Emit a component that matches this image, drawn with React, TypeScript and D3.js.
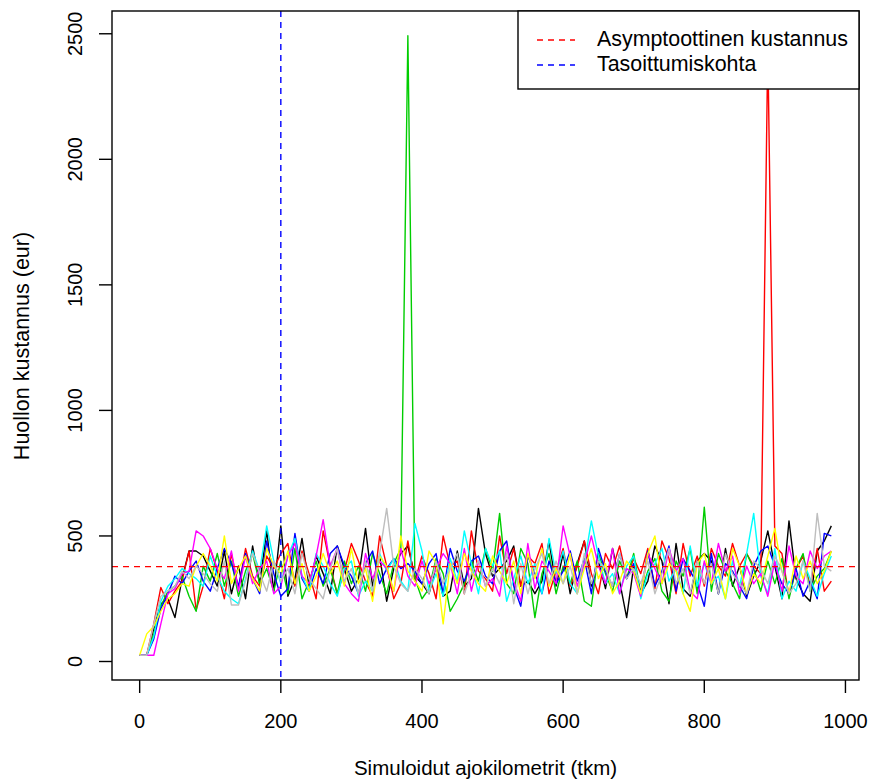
import React from "react";
import * as d3 from "d3";

const km: number[] = d3.range(0, 990, 10);

const seriesBlack = [
  25, 25, 130, 230, 250, 175, 330, 440, 440, 420,
  360, 300, 440, 270, 380, 250, 460, 310, 520, 280,
  540, 260, 330, 490, 300, 420, 350, 270, 460, 370,
  280, 330, 530, 300, 420, 240, 370, 430, 460, 340,
  310, 270, 380, 260, 280, 440, 300, 330, 610, 430,
  340, 370, 400, 460, 300, 320, 270, 320, 480, 300,
  430, 270, 390, 480, 300, 400, 290, 450, 320, 175,
  380, 270, 320, 460, 400, 230, 470, 290, 260, 400,
  430, 400, 270, 450, 300, 380, 260, 340, 400, 520,
  380, 250, 560, 330, 270, 240, 440, 480, 540,
];
const seriesRed = [
  25, 25, 150, 295, 230, 280, 320, 440, 205, 300,
  450, 360, 250, 430, 290, 450, 340, 300, 420, 370,
  430, 470, 300, 440, 350, 250, 520, 380, 270, 360,
  470, 400, 320, 260, 500, 380, 250, 310, 480, 320,
  420, 350, 250, 500, 380, 400, 270, 520, 360, 330,
  280, 500, 350, 450, 300, 420, 390, 470, 270, 360,
  450, 300, 380, 480, 350, 270, 430, 370, 460, 330,
  410, 350, 450, 290, 480, 410, 270, 470, 340, 420,
  300, 450, 380, 340, 470, 380, 430, 380, 350, 2450,
  460, 430, 260, 370, 420, 300, 450, 280, 320,
];
const seriesGreen = [
  25, 25, 110, 220, 280, 300, 340, 260, 200, 380,
  320, 430, 300, 400, 260, 360, 430, 310, 370, 280,
  400, 270, 450, 250, 320, 400, 300, 370, 270, 400,
  310, 380, 280, 430, 350, 270, 390, 450, 2492, 330,
  250, 290, 410, 350, 200, 250, 310, 400, 320, 450,
  360, 590, 310, 270, 450, 390, 175, 350, 430, 270,
  380, 310, 400, 240, 220, 430, 350, 280, 400, 330,
  430, 270, 360, 410, 280, 240, 400, 340, 450, 270,
  615, 280, 430, 360, 310, 250, 430, 370, 280, 400,
  310, 410, 250, 370, 430, 280, 340, 370, 440,
];
const seriesBlue = [
  25, 25, 90, 210, 270, 340, 310, 360, 400, 320,
  280, 370, 450, 390, 300, 430, 330, 270, 480, 350,
  260, 290, 510, 330, 280, 370, 310, 430, 460, 380,
  340, 270, 390, 440, 310, 370, 410, 370, 390, 360,
  310, 390, 430, 270, 450, 360, 320, 400, 420, 340,
  310, 440, 480, 300, 220, 420, 350, 270, 400, 310,
  360, 440, 320, 410, 270, 450, 360, 300, 430, 330,
  390, 270, 440, 300, 360, 460, 280, 410, 360, 310,
  220, 430, 270, 390, 360, 300, 250, 380, 440, 460,
  380, 310, 270, 370, 260, 320, 250, 510, 500,
];
const seriesCyan = [
  25, 25, 100, 240, 300, 330, 370, 350, 330, 300,
  420, 340, 280, 250, 230, 330, 440, 360, 540, 400,
  310, 420, 490, 340, 280, 430, 380, 310, 260, 370,
  400, 260, 320, 280, 430, 360, 410, 320, 280, 550,
  440, 280, 350, 260, 410, 320, 520, 390, 270, 450,
  380, 440, 240, 330, 420, 310, 390, 270, 490, 350,
  440, 310, 270, 390, 560, 420, 310, 350, 270, 380,
  420, 250, 350, 390, 450, 320, 370, 270, 460, 300,
  390, 310, 340, 250, 400, 300, 430, 590, 340, 270,
  450, 250, 320, 280, 400, 330, 260, 350, 420,
];
const seriesMagenta = [
  25, 25, 25, 150, 270, 290, 350, 360, 520, 500,
  450, 370, 330, 440, 280, 420, 310, 370, 400, 270,
  300, 420, 470, 340, 310, 420, 565, 380, 450, 310,
  270, 240, 430, 330, 400, 370, 280, 450, 340, 300,
  400, 310, 370, 430, 390, 270, 450, 280, 400, 300,
  330, 260, 460, 320, 240, 470, 290, 400, 360, 310,
  540, 420, 300, 390, 500, 380, 310, 450, 270, 370,
  350, 260, 430, 370, 310, 450, 360, 410, 280, 250,
  400, 310, 470, 360, 420, 270, 380, 310, 350, 260,
  400, 280, 460, 340, 310, 440, 370, 420, 440,
];
const seriesYellow = [
  25, 110, 140, 200, 250, 270, 310, 300, 380, 430,
  380, 320, 500, 310, 370, 420, 330, 280, 450, 380,
  350, 440, 310, 390, 280, 340, 430, 350, 400, 300,
  450, 310, 370, 240, 420, 380, 280, 500, 360, 320,
  280, 440, 390, 150, 390, 310, 430, 360, 310, 280,
  420, 360, 310, 400, 270, 430, 330, 450, 300, 370,
  310, 430, 270, 370, 450, 330, 390, 270, 320, 400,
  360, 270, 430, 500, 310, 390, 360, 270, 200, 390,
  430, 310, 370, 250, 450, 380, 270, 350, 310, 420,
  530, 360, 270, 420, 330, 400, 310, 360, 440,
];
const seriesGray = [
  25, 25, 150, 260, 280, 300, 360, 330, 380, 350,
  310, 280, 400, 225, 225, 320, 430, 350, 280, 400,
  320, 370, 270, 430, 330, 290, 250, 370, 450, 320,
  370, 270, 400, 280, 430, 610, 380, 310, 280, 370,
  330, 270, 400, 310, 370, 430, 270, 350, 400, 300,
  370, 310, 430, 230, 390, 270, 370, 430, 310, 400,
  310, 380, 270, 430, 310, 400, 370, 300, 430, 330,
  370, 310, 400, 270, 350, 450, 310, 370, 270, 400,
  310, 390, 270, 430, 350, 310, 270, 400, 370, 310,
  420, 360, 270, 310, 400, 280, 590, 380, 360,
];

const seriesList = [
  seriesBlack, seriesRed, seriesGreen, seriesBlue,
  seriesCyan, seriesMagenta, seriesYellow, seriesGray,
];
const seriesColors = ["#000000", "#FF0000", "#00CD00", "#0000FF", "#00FFFF", "#FF00FF", "#FFFF00", "#BEBEBE"];

const asymptote = 378;
const breakEven = 200;
const xTicks = [0, 200, 400, 600, 800, 1000];
const yTicks = [0, 500, 1000, 1500, 2000, 2500];
const legendLabels = ["Asymptoottinen kustannus", "Tasoittumiskohta"];
const legendColors = ["#FF0000", "#0000FF"];
const xLabel = "Simuloidut ajokilometrit (tkm)";
const yLabel = "Huollon kustannus (eur)";

const W = 871;
const H = 783;
const L = 112, R = 859, T = 11, B = 680;
const FONT = "'Liberation Sans', Arial, Helvetica, sans-serif";

function pad(ext: [number, number]): [number, number] {
  const d = (ext[1] - ext[0]) * 0.04;
  return [ext[0] - d, ext[1] + d];
}

export default function App() {
  const xExt = d3.extent(km) as [number, number];
  const allVals = seriesList.flat();
  const yExt = d3.extent(allVals) as [number, number];
  const x = d3.scaleLinear().domain(pad(xExt)).range([L, R]);
  const y = d3.scaleLinear().domain(pad(yExt)).range([B, T]);
  const line = d3
    .line<number>()
    .x((_, i) => x(km[i]))
    .y((v) => y(v));

  return (
    <svg width={W} height={H} style={{ position: "absolute", left: 0, top: 0, background: "#fff" }} fontFamily={FONT} fontSize={20}>
      <rect x={0} y={0} width={W} height={H} fill="#fff" />
      <defs>
        <clipPath id="plotclip">
          <rect x={L} y={T} width={R - L} height={B - T} />
        </clipPath>
      </defs>
      <g clipPath="url(#plotclip)">
        {seriesList.map((s, k) => (
          <path key={k} d={line(s) || ""} fill="none" stroke={seriesColors[k]} strokeWidth={1.4} strokeLinejoin="round" />
        ))}
        <line x1={L} x2={R} y1={y(asymptote)} y2={y(asymptote)} stroke="#FF0000" strokeWidth={1.4} strokeDasharray="6,5" />
        <line x1={x(breakEven)} x2={x(breakEven)} y1={T} y2={B} stroke="#0000FF" strokeWidth={1.4} strokeDasharray="6,5" />
      </g>
      <rect x={L} y={T} width={R - L} height={B - T} fill="none" stroke="#000" strokeWidth={1.4} />
      {xTicks.map((t) => (
        <g key={t}>
          <line x1={x(t)} x2={x(t)} y1={B} y2={B + 13} stroke="#000" strokeWidth={1.4} />
          <text x={x(t)} y={728} textAnchor="middle">{t}</text>
        </g>
      ))}
      {yTicks.map((t) => (
        <g key={t}>
          <line x1={L - 13} x2={L} y1={y(t)} y2={y(t)} stroke="#000" strokeWidth={1.4} />
          <text transform={`translate(82,${y(t)}) rotate(-90)`} textAnchor="middle">{t}</text>
        </g>
      ))}
      <text x={(L + R) / 2} y={775} textAnchor="middle" fontSize={20.5}>{xLabel}</text>
      <text transform={`translate(29,346) rotate(-90)`} textAnchor="middle" fontSize={21.5}>{yLabel}</text>
      <rect x={518} y={T} width={R - 518} height={78} fill="#fff" stroke="#000" strokeWidth={1.4} />
      {legendLabels.map((lab, i) => (
        <g key={lab}>
          <line x1={537} x2={575} y1={40 + i * 25} y2={40 + i * 25} stroke={legendColors[i]} strokeWidth={1.4} strokeDasharray="6,5" />
          <text x={597} y={46 + i * 25} fontSize={21.4}>{lab}</text>
        </g>
      ))}
    </svg>
  );
}
